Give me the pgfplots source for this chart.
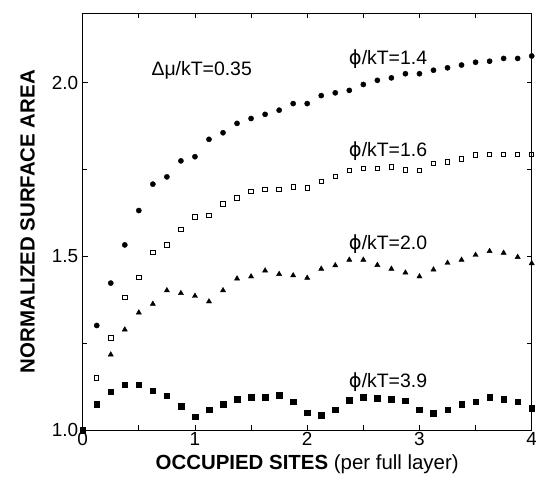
\documentclass[border=0pt]{standalone}
\usepackage{fontspec}
\setmainfont{Liberation Sans}
\newfontfamily\dejavu{DejaVu Sans}
\usepackage{pgfplots}
\usepackage{pgfplotstable}
\pgfplotsset{compat=1.18}
\newcommand{\ph}{{\dejavu ϕ}}

\pgfplotstableread{
x y
0.125 1.301
0.250 1.423
0.375 1.533
0.500 1.632
0.625 1.708
0.750 1.729
0.875 1.775
1.000 1.787
1.125 1.837
1.250 1.856
1.375 1.883
1.500 1.897
1.625 1.909
1.750 1.921
1.875 1.940
2.000 1.940
2.125 1.963
2.250 1.971
2.375 1.978
2.500 1.995
2.625 2.007
2.750 2.014
2.875 2.026
3.000 2.026
3.125 2.036
3.250 2.043
3.375 2.051
3.500 2.059
3.625 2.062
3.750 2.070
3.875 2.070
4.000 2.077
}\phiA

\pgfplotstableread{
x y
0.125 1.150
0.250 1.265
0.375 1.381
0.500 1.440
0.625 1.512
0.750 1.533
0.875 1.578
1.000 1.614
1.125 1.617
1.250 1.651
1.375 1.668
1.500 1.687
1.625 1.693
1.750 1.693
1.875 1.700
2.000 1.697
2.125 1.715
2.250 1.730
2.375 1.747
2.500 1.754
2.625 1.754
2.750 1.758
2.875 1.749
3.000 1.747
3.125 1.767
3.250 1.772
3.375 1.781
3.500 1.792
3.625 1.794
3.750 1.794
3.875 1.794
4.000 1.794
}\phiB

\pgfplotstableread{
x y
0.250 1.217
0.375 1.289
0.500 1.338
0.625 1.363
0.750 1.402
0.875 1.394
1.000 1.386
1.125 1.370
1.250 1.402
1.375 1.436
1.500 1.442
1.625 1.459
1.750 1.449
1.875 1.445
2.000 1.438
2.125 1.464
2.250 1.474
2.375 1.490
2.500 1.490
2.625 1.475
2.750 1.464
2.875 1.453
3.000 1.442
3.125 1.462
3.250 1.481
3.375 1.490
3.500 1.504
3.625 1.515
3.750 1.510
3.875 1.498
4.000 1.480
}\phiC

\pgfplotstableread{
x y
0.000 1.000
0.125 1.074
0.250 1.110
0.375 1.131
0.500 1.131
0.625 1.113
0.750 1.099
0.875 1.069
1.000 1.038
1.125 1.059
1.250 1.074
1.375 1.088
1.500 1.095
1.625 1.095
1.750 1.100
1.875 1.081
2.000 1.050
2.125 1.042
2.250 1.059
2.375 1.085
2.500 1.095
2.625 1.092
2.750 1.089
2.875 1.084
3.000 1.059
3.125 1.048
3.250 1.059
3.375 1.074
3.500 1.082
3.625 1.095
3.750 1.088
3.875 1.081
4.000 1.062
}\phiD

\begin{document}
\begin{tikzpicture}
\useasboundingbox (-82.7bp,-54bp) rectangle (453.3bp,430bp);
\begin{axis}[
  scale only axis, width=449bp, height=416.7bp,
  xmin=0, xmax=4, ymin=1, ymax=2.2,
  clip=false,
  xtick={0,1,2,3,4}, minor xtick={0.5,1.5,2.5,3.5},
  ytick={1,1.5,2}, minor ytick={1.25,1.75},
  tick align=inside, major tick length=5bp, minor tick length=4.5bp,
  tick style={black, line width=0.8pt},
  axis line style={line width=0.9pt},
  /pgf/number format/assume math mode=true,
  ticklabel style={font=\fontsize{19}{22}\selectfont},
  yticklabel style={/pgf/number format/fixed, /pgf/number format/precision=1, /pgf/number format/fixed zerofill, xshift=-1bp},
  xticklabel style={/pgf/number format/fixed, /pgf/number format/precision=0, yshift=1bp},
  xlabel={\textbf{OCCUPIED SITES} (per full layer)},
  ylabel={\textbf{NORMALIZED SURFACE AREA}},
  label style={font=\fontsize{20.5}{24}\selectfont},
  x label style={at={(axis description cs:0.5,-0.0816)}, anchor=center},
  y label style={at={(axis description cs:-0.1225,0.5)}, anchor=center},
]
\addplot[only marks, mark=*, mark size=2.6bp, black] table {\phiA};
\addplot[only marks, mark=square, mark size=2.2bp, black, mark options={line width=0.9pt}] table {\phiB};
\addplot[only marks, mark=triangle*, mark size=3bp, black] table {\phiC};
\addplot[only marks, mark=square*, mark size=2.8bp, black] table {\phiD};
\node[font=\fontsize{19.5}{22}\selectfont] at (axis cs:1.06,2.036) {Δμ/kT=0.35};
\node[font=\fontsize{19.5}{22}\selectfont] at (axis cs:2.72,2.068) {\ph/kT=1.4};
\node[font=\fontsize{19.5}{22}\selectfont] at (axis cs:2.72,1.804) {\ph/kT=1.6};
\node[font=\fontsize{19.5}{22}\selectfont] at (axis cs:2.72,1.535) {\ph/kT=2.0};
\node[font=\fontsize{19.5}{22}\selectfont] at (axis cs:2.72,1.139) {\ph/kT=3.9};
\end{axis}
\end{tikzpicture}
\end{document}
